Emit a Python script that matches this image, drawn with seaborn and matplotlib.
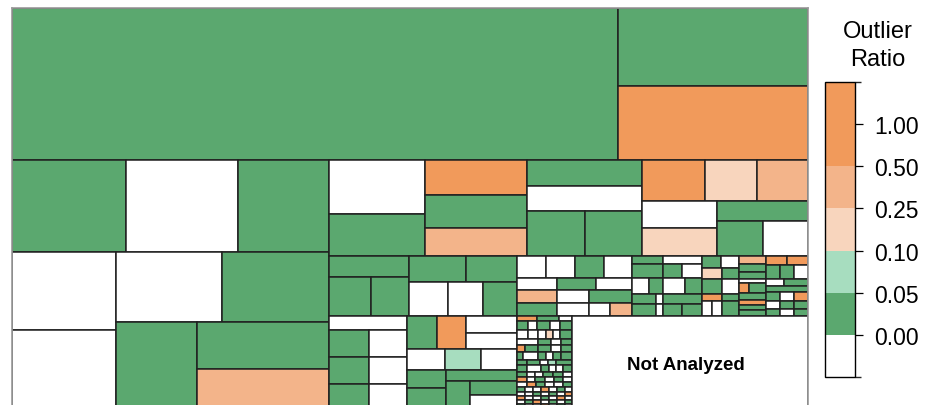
import re
import numpy as np
import matplotlib
matplotlib.use("Agg")
import matplotlib.pyplot as plt
from matplotlib.colors import ListedColormap, BoundaryNorm
from matplotlib.cm import ScalarMappable
import seaborn as sns

# ---------------------------------------------------------------------------
# Outlier-ratio classes (colour bins) and the value standing for each code
# W: no outliers / not scored, G: <5 %, L: 5-10 %, P: 10-25 %, Q: 25-50 %, O: >50 %
RATIO_OF = {"W": -0.5, "G": 0.02, "L": 0.07, "P": 0.17, "Q": 0.35, "O": 0.80, "N": -0.5}
BOUNDS = [-1.0, 0.00, 0.05, 0.10, 0.25, 0.50, 1.00, 2.00]
BIN_COLORS = ["#FFFFFF", "#5BA86F", "#A7DDBF", "#F8D5BD", "#F3B48A", "#F19A5B", "#F19A5B"]
TICKS = [0.00, 0.05, 0.10, 0.25, 0.50, 1.00]
TICK_LABELS = ["0.00", "0.05", "0.10", "0.25", "0.50", "1.00"]
LEGEND_TITLE = "Outlier\nRatio"
NOT_ANALYZED_LABEL = "Not Analyzed"


def H(*kids):
    return ("h", list(kids))


def V(*kids):
    return ("v", list(kids))


def grid(rows):
    """rows of (row weight, 'G19W18'-style cell weights) -> nested node"""
    out = []
    for n, spec in rows:
        out.append(("h", [(c, int(w) * n) for c, w in re.findall(r"([A-Z])(\d+)", spec)]))
    return ("v", out)


# ---------------------------------------------------------------------------
# Group sizes (number of samples) and their outlier class
TOP_BAND = H(("G", 92112), V(("G", 14820), ("O", 14060)))

LEFT_BLOCK = V(
    H(("G", 10488), ("W", 10304), ("G", 8372)),
    H(V(("W", 8112), ("W", 8736)),
      V(H(("W", 7420), ("G", 7490)),
        H(("G", 7452), V(("G", 6204), ("Q", 5940))))))

UPPER_RIGHT = H(
    V(("W", 5184), ("G", 4032)),
    V(("O", 3570), ("G", 3366), ("Q", 2856)),
    V(("G", 2990), ("W", 2875), H(("G", 2610), ("G", 2565))),
    V(H(("O", 2583), ("P", 2132), ("Q", 2091)),
      H(V(("W", 2025), ("P", 2100)),
        V(("G", 1820), H(("G", 1610), ("W", 1575))))))

MIDDLE_BLOCK = V(
    H(V(("G", 1680), H(("G", 1638), ("G", 1482))),
      V(H(("G", 1482), ("G", 1326)), H(("W", 1326), ("W", 1190), ("G", 1156)))),
    H(V(("W", 1092), H(V(("G", 1080), ("G", 1080), ("G", 1200)),
                       V(("W", 1026), ("W", 1026), ("W", 1140)))),
      V(H(("G", 990), ("O", 957), V(("W", 867), ("W", 816))),
        H(("W", 798), ("L", 756), ("W", 756)),
        H(V(("G", 702), ("G", 1014)),
          V(("G", 781), H(("G", 792), V(("G", 658), ("W", 893))))))))

STRIP_A = [(22, "W29W29G29W28"), (12, "W40G39W36"), (13, "Q40W32G43"), (13, "G40W32W21Q22")]
STRIP_B = [(8, "G31W39"), (14, "G31G19W20"), (16, "W17G14W22G17"), (10, "G24W7G39"),
           (12, "G24W7G19G20")]
STRIP_C = [(12, "G19W18"), (11, "P20G17"), (15, "G20W17"), (7, "O20G17"), (15, "W10W10G17")]
STRIP_D = [(8, "Q27"), (8, "G27"), (7, "G27"), (4, "W27"), (10, "O10G17"), (7, "G27"),
           (5, "O27"), (5, "G27"), (6, "G27")]
STRIP_E = [(9, "O21O21"), (14, "G14G14W14"), (7, "W18G24"), (6, "G42"), (9, "G14W14O14"),
           (8, "W14G14G14"), (7, "G14W14G14")]
SMALL_GROUPS = [(5, "O20G22W13"), (9, "G11W9G13W10G12"), (9, "W11W10W8P7W7G12"),
                (6, "W21G13W10G11"), (7, "O8G13G13W10G11"), (8, "G6W15G8W7G8G11"),
                (5, "G10G13W8L8G16"), (7, "G10W14G8W7W7G9"), (5, "G10W8W8G10G10W9"),
                (5, "O10W8G10W9G9W9"), (5, "W10O9G9W9W9G9"), (5, "G8W8W8O8W8G8W7"),
                (4, "W8W8G8W8G8W8O7"), (4, "O8W8W8G8W8O8W7"), (4, "W8G8O8W8G8W8G7"),
                (4, "G8W8W8O8W8G8W7"), (6, "W20G20W15")]
NOT_ANALYZED = 23128

TREE = V(TOP_BAND,
         H(LEFT_BLOCK,
           V(UPPER_RIGHT,
             H(MIDDLE_BLOCK,
               V(H(grid(STRIP_A), grid(STRIP_B),
                   H(grid(STRIP_C), grid(STRIP_D), grid(STRIP_E))),
                 H(grid(SMALL_GROUPS), ("N", NOT_ANALYZED)))))))


# ---------------------------------------------------------------------------
def size(node):
    if node[0] in ("h", "v"):
        return sum(size(k) for k in node[1])
    return node[1]


def layout(node, x0, y0, x1, y1, out):
    """slice-and-dice: 'h' splits the width, 'v' splits the height"""
    kind = node[0]
    if kind not in ("h", "v"):
        out.append((x0, y0, x1 - x0, y1 - y0, kind))
        return
    total = float(size(node))
    pos = x0 if kind == "h" else y0
    for kid in node[1]:
        frac = size(kid) / total
        if kind == "h":
            step = (x1 - x0) * frac
            layout(kid, pos, y0, pos + step, y1, out)
        else:
            step = (y1 - y0) * frac
            layout(kid, x0, pos, x1, pos + step, out)
        pos += step


sns.set_theme(style="white")
plt.rcParams["font.family"] = ["Liberation Sans", "DejaVu Sans"]

CANVAS_W = 796.0
canvas_h = size(TREE) / CANVAS_W
rects = []
layout(TREE, 0.0, 0.0, CANVAS_W, canvas_h, rects)

cmap = ListedColormap(BIN_COLORS)
norm = BoundaryNorm(BOUNDS, cmap.N)

fig = plt.figure(figsize=(9.27, 4.06), dpi=100)
ax = fig.add_axes([11.7 / 927, 0.0, 796.3 / 927, 397 / 406])

xs = np.array([r[0] for r in rects])
ys = np.array([r[1] for r in rects])
ws = np.array([r[2] for r in rects])
hs = np.array([r[3] for r in rects])
cols = [cmap(norm(RATIO_OF[r[4]])) for r in rects]
ax.bar(xs, hs, width=ws, bottom=ys, align="edge", color=cols,
       edgecolor="#202020", linewidth=1.1)

for x, y, w, h, code in rects:
    if code == "N":
        ax.text(x + w / 2 - 4, y + h / 2, NOT_ANALYZED_LABEL, ha="center", va="center",
                fontsize=13.5, fontweight="bold", color="black")

ax.set_xlim(0, CANVAS_W)
ax.set_ylim(397, 0)
ax.set_xticks([])
ax.set_yticks([])
for side in ("left", "top", "right"):
    ax.spines[side].set_color("#9a9a9a")
    ax.spines[side].set_linewidth(1.2)
ax.spines["bottom"].set_visible(False)

# colour legend
cax = fig.add_axes([825 / 927, (406 - 378) / 406, 30 / 927, 295 / 406])
cb = fig.colorbar(ScalarMappable(norm=norm, cmap=cmap), cax=cax, spacing="uniform",
                  ticks=TICKS)
cb.set_ticklabels(TICK_LABELS)
cb.outline.set_edgecolor("black")
cb.outline.set_linewidth(1.0)
cax.tick_params(axis="y", length=6, width=0.9, pad=8, labelsize=16.5, colors="black",
                right=True, left=False)
fig.text(878 / 927, 1 - 46 / 406, LEGEND_TITLE, ha="center", va="center",
         fontsize=17, linespacing=1.3, color="black")

fig.savefig("out.png", dpi=100)
